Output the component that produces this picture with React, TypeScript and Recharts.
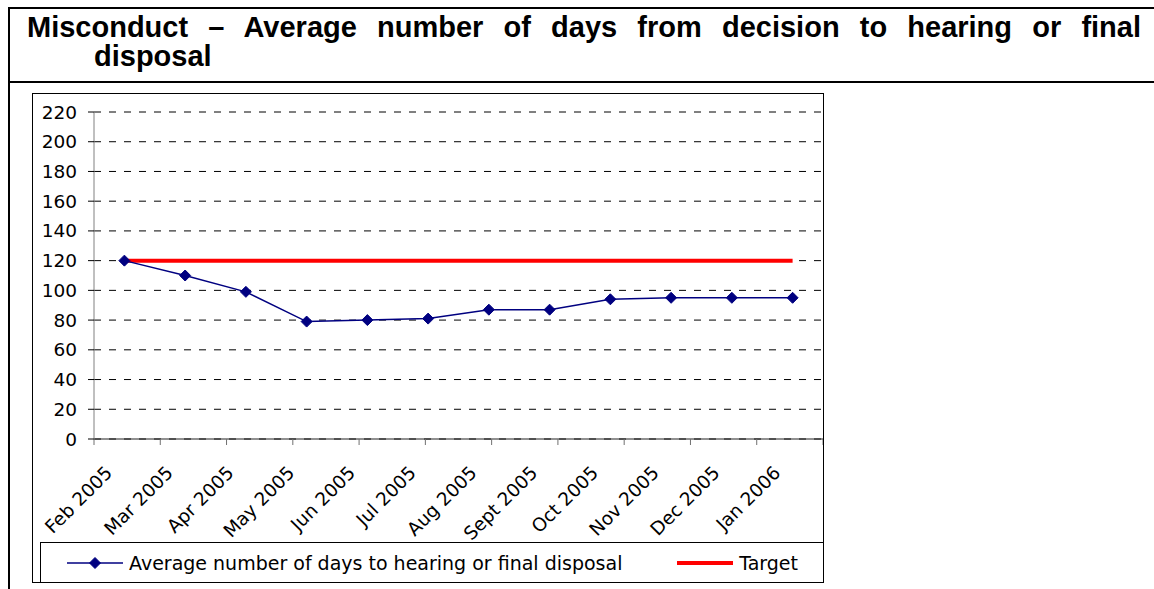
import { LineChart, Line, XAxis, YAxis, CartesianGrid, Legend } from "recharts";

const MONTHS = [
  "Feb 2005",
  "Mar 2005",
  "Apr 2005",
  "May 2005",
  "Jun 2005",
  "Jul 2005",
  "Aug 2005",
  "Sept 2005",
  "Oct 2005",
  "Nov 2005",
  "Dec 2005",
  "Jan 2006",
];
const AVG_DAYS = [120, 110, 99, 79, 80, 81, 87, 87, 94, 95, 95, 95];
const TARGET = [120, 120, 120, 120, 120, 120, 120, 120, 120, 120, 120, 120];
const Y_TICKS = [0, 20, 40, 60, 80, 100, 120, 140, 160, 180, 200, 220];
const EDGE_TICKS = [0, 1, 2, 3, 4, 5, 6, 7, 8, 9, 10, 11, 12];

const AVG_NAME = "Average number of days to hearing or final disposal";
const TARGET_NAME = "Target";
const NAVY = "#000080";
const RED = "#FF0000";
const FONT = "'DejaVu Sans', Verdana, sans-serif";
const FS = 18.5;

const data = MONTHS.map((month, i) => ({
  month,
  avg: AVG_DAYS[i],
  target: TARGET[i],
}));

function Diamond({ cx, cy, r = 5.5 }: { cx: number; cy: number; r?: number }) {
  return (
    <polygon
      points={`${cx},${cy - r} ${cx + r},${cy} ${cx},${cy + r} ${cx - r},${cy}`}
      fill={NAVY}
      stroke={NAVY}
    />
  );
}

const MonthTick = ({ x, y, payload }: any) => (
  <g transform={`translate(${x - 11},${y + 27})`}>
    <text
      textAnchor="end"
      transform="rotate(-45)"
      fill="#000"
      fontSize={FS}
      fontFamily={FONT}
    >
      {payload.value}
    </text>
  </g>
);

const NoLabel = () => null;

const renderLegend = ({ payload }: any) => {
  const items = [...(payload || [])].sort((a: any, b: any) =>
    a.value === TARGET_NAME ? 1 : b.value === TARGET_NAME ? -1 : 0,
  );
  return (
    <div
      style={{
        boxSizing: "border-box",
        height: 40,
        borderTop: "1px solid #000",
        borderLeft: "1px solid #000",
        display: "flex",
        alignItems: "center",
        justifyContent: "space-between",
        paddingLeft: 26,
        paddingRight: 25,
        fontFamily: FONT,
        fontSize: 19,
        color: "#000",
      }}
    >
      {items.map((entry: any) => (
        <div key={entry.value} style={{ display: "flex", alignItems: "center" }}>
          <svg width={56} height={14}>
            <line
              x1={0}
              y1={7}
              x2={56}
              y2={7}
              stroke={entry.color}
              strokeWidth={entry.value === TARGET_NAME ? 4 : 1.5}
              strokeLinecap={entry.value === TARGET_NAME ? "round" : "butt"}
            />
            {entry.value !== TARGET_NAME && <Diamond cx={28} cy={7} />}
          </svg>
          <span style={{ marginLeft: 6 }}>{entry.value}</span>
        </div>
      ))}
    </div>
  );
};

export default function App() {
  return (
    <div
      style={{
        position: "fixed",
        left: 0,
        top: 0,
        width: 1154,
        height: 589,
        background: "#fff",
        overflow: "hidden",
      }}
    >
      {/* table frame */}
      <div style={{ position: "absolute", left: 8, top: 7, width: 1200, height: 2, background: "#000" }} />
      <div style={{ position: "absolute", left: 8, top: 81, width: 1200, height: 2, background: "#000" }} />
      <div style={{ position: "absolute", left: 8, top: 7, width: 2, height: 600, background: "#000" }} />

      {/* title */}
      <div
        style={{
          position: "absolute",
          left: 27,
          top: 13,
          width: 1114,
          fontFamily: "'Liberation Sans', Arial, sans-serif",
          fontWeight: "bold",
          fontSize: 29,
          lineHeight: "29px",
          color: "#000",
        }}
      >
        <div style={{ textAlign: "justify", textAlignLast: "justify", whiteSpace: "nowrap" }}>
          Misconduct – Average number of days from decision to hearing or final
        </div>
        <div style={{ paddingLeft: 67 }}>disposal</div>
      </div>

      {/* chart area */}
      <div
        style={{
          position: "absolute",
          left: 32,
          top: 93,
          width: 792,
          height: 490,
          boxSizing: "border-box",
          border: "1px solid #000",
        }}
      >
        <LineChart
          width={790}
          height={488}
          data={data}
          margin={{ top: 18, right: 0, bottom: 0, left: 0 }}
          style={{ fontFamily: FONT }}
        >
          <CartesianGrid
            vertical={false}
            stroke="#000"
            strokeDasharray="7 8"
            yAxisId={0}
            xAxisId={1}
          />
          <XAxis
            xAxisId={0}
            type="number"
            domain={[0, 12]}
            ticks={EDGE_TICKS}
            interval={0}
            tick={NoLabel}
            height={8}
            tickSize={6}
            axisLine={{ stroke: "#222" }}
            tickLine={{ stroke: "#707070" }}
            allowDataOverflow
          />
          <XAxis
            xAxisId={1}
            dataKey="month"
            interval={0}
            height={95}
            axisLine={false}
            tickLine={false}
            tickSize={0}
            tickMargin={0}
            padding={{ left: 30.4, right: 30.4 }}
            tick={<MonthTick />}
          />
          <YAxis
            width={61}
            domain={[0, 220]}
            ticks={Y_TICKS}
            interval={0}
            axisLine={{ stroke: "#808080" }}
            tickLine={{ stroke: "#000" }}
            tickSize={6}
            tickMargin={11}
            tick={{ fill: "#000", fontSize: FS, fontFamily: FONT }}
          />
          <Legend
            verticalAlign="bottom"
            height={40}
            content={renderLegend}
            wrapperStyle={{ left: 7, bottom: 0, width: 783, height: 40 }}
          />
          <Line
            xAxisId={1}
            dataKey="target"
            name={TARGET_NAME}
            stroke={RED}
            strokeWidth={4}
            dot={false}
            activeDot={false}
            isAnimationActive={false}
          />
          <Line
            xAxisId={1}
            dataKey="avg"
            name={AVG_NAME}
            stroke={NAVY}
            strokeWidth={1.5}
            dot={(p: any) => <Diamond key={p.index} cx={p.cx} cy={p.cy} />}
            activeDot={false}
            isAnimationActive={false}
          />
        </LineChart>
      </div>
    </div>
  );
}
